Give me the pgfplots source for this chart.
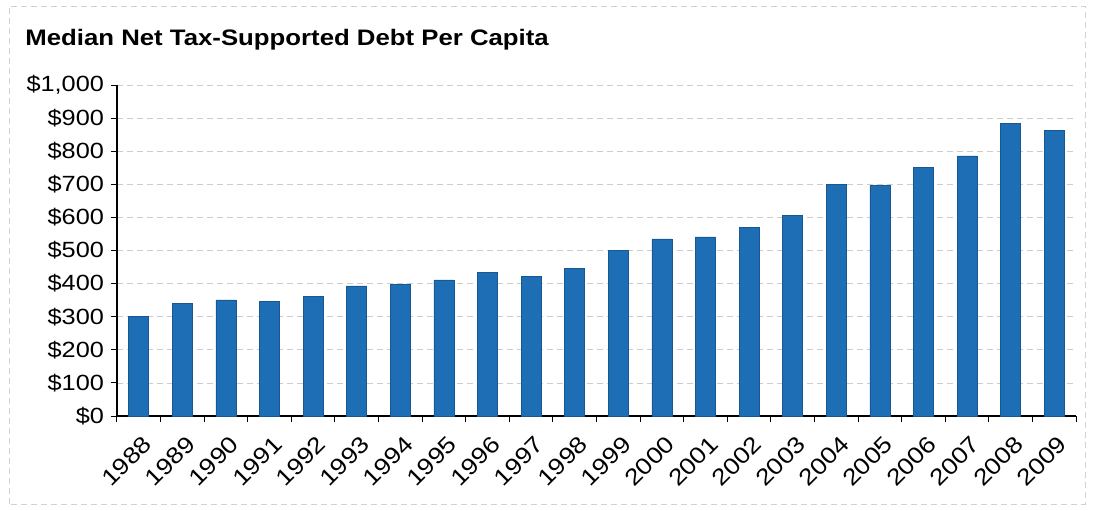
\documentclass[border=0pt]{standalone}
\usepackage{fontspec}
\setmainfont{Liberation Sans}
\newfontfamily\widefont[FakeStretch=1.15]{Liberation Sans}
\usepackage{pgfplots}
\pgfplotsset{compat=1.18}
\definecolor{barblue}{RGB}{30,110,182}
\begin{document}
\begin{tikzpicture}[x=1pt,y=1pt]
\useasboundingbox (-58.5,-47) rectangle (488,208);
\draw[gray!35, densely dashed, line width=0.4pt] (-54,-44) rectangle (484,205);
\node[anchor=west, inner sep=0pt, font=\widefont\bfseries\fontsize{11.2}{13}\selectfont] at (-46,188) {Median Net Tax-Supported Debt Per Capita};
\begin{axis}[at={(0,0)}, anchor=south west, scale only axis,
  width=479.5pt, height=165.5pt,
  xmin=-0.5, xmax=21.5, ymin=0, ymax=1000,
  axis x line*=bottom, axis y line*=left,
  axis line style={black, line width=0.6pt},
  tick align=outside, major tick length=3pt, minor tick length=3pt,
  ytick={0,100,...,1000},
  yticklabels={\$0,\$100,\$200,\$300,\$400,\$500,\$600,\$700,\$800,\$900,{\$1,000}},
  yticklabel style={font=\widefont\fontsize{11}{13}\selectfont},
  xtick={0,...,21},
  xticklabels={1988,1989,1990,1991,1992,1993,1994,1995,1996,1997,1998,1999,2000,2001,2002,2003,2004,2005,2006,2007,2008,2009},
  xticklabel style={rotate=45, anchor=north east, font=\widefont\fontsize{11.5}{13}\selectfont, yshift=-2pt},
  major x tick style={draw=none},
  minor xtick={-0.5,0.5,...,21.5},
  minor x tick style={black, line width=0.5pt},
  major y tick style={black, line width=0.5pt},
  ymajorgrids, major grid style={densely dashed, gray!40, line width=0.4pt},
  ybar, bar width=10pt,
]
\addplot[fill=barblue, draw=barblue!80!black, line width=0.3pt] coordinates {
(0,300) (1,339) (2,351) (3,346) (4,362) (5,393) (6,398) (7,411) (8,434) (9,422) (10,445)
(11,501) (12,535) (13,541) (14,571) (15,605) (16,699) (17,697) (18,750) (19,786) (20,885) (21,862)
};
\end{axis}
\end{tikzpicture}
\end{document}
